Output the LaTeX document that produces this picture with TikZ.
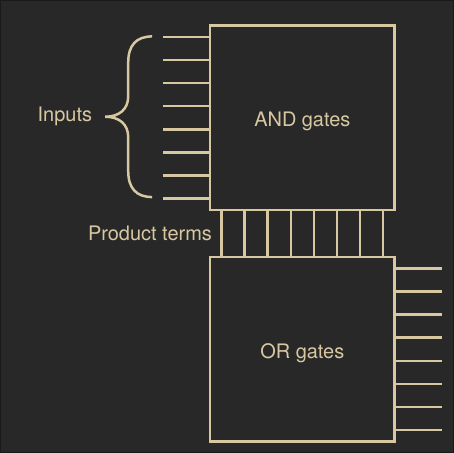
\documentclass[tikz,border=0pt]{standalone}
\usepackage{fontspec}
\setmainfont{TeX Gyre Heros}
\usetikzlibrary{positioning, calc}
\definecolor{pldbg}{HTML}{282828}
\definecolor{pldedge}{HTML}{1A1A1A}
\definecolor{pldline}{HTML}{D8C8A2}

\begin{document}
\begin{tikzpicture}[
  x=1pt, y=-1pt, font=\fontsize{20}{24}\selectfont,
  gate/.style={draw=pldline, line width=2.5pt, minimum width=185pt,
    minimum height=185pt, inner sep=0pt, outer sep=0pt, text=pldline,
    text height=18pt, text depth=0pt},
  wire/.style={pldline, line width=2.5pt},
  lbl/.style={text=pldline, inner sep=0pt}
]
\fill[pldbg, draw=pldedge, line width=1pt] (0,0) rectangle (454,453);
\node[gate] (and) at (302.5,117.5) {AND gates};
\node[gate, below=47pt of and] (or) {OR gates};
% inputs, product terms, outputs
\foreach \i in {0,...,7} {
  \draw[wire] ($(and.north west)+(0,{(\i+0.5)*185/8})$) -- ++(-47,0);
  \draw[wire] ($(and.south west)+({(\i+0.5)*185/8},0)$) -- ($(or.north west)+({(\i+0.5)*185/8},0)$);
  \draw[wire] ($(or.north east)+(0,{(\i+0.5)*185/8})$) -- ++(47,0);
}
\coordinate (brtip) at (105,116.5);
\draw[wire] (152,36) .. controls (136,36) and (128,45) .. (128,62) -- (128,96)
  .. controls (128,109) and (119,116.5) .. (brtip)
  .. controls (119,116.5) and (128,124) .. (128,137) -- (128,171)
  .. controls (128,188) and (136,197) .. (152,197);
\node[lbl, left=13pt of brtip] (inputs) {Inputs};
\node[lbl, anchor=east] (pterms) at ($(and.south west)!0.5!(or.north west)+(2,0)$) {Product terms};
\end{tikzpicture}
\end{document}
